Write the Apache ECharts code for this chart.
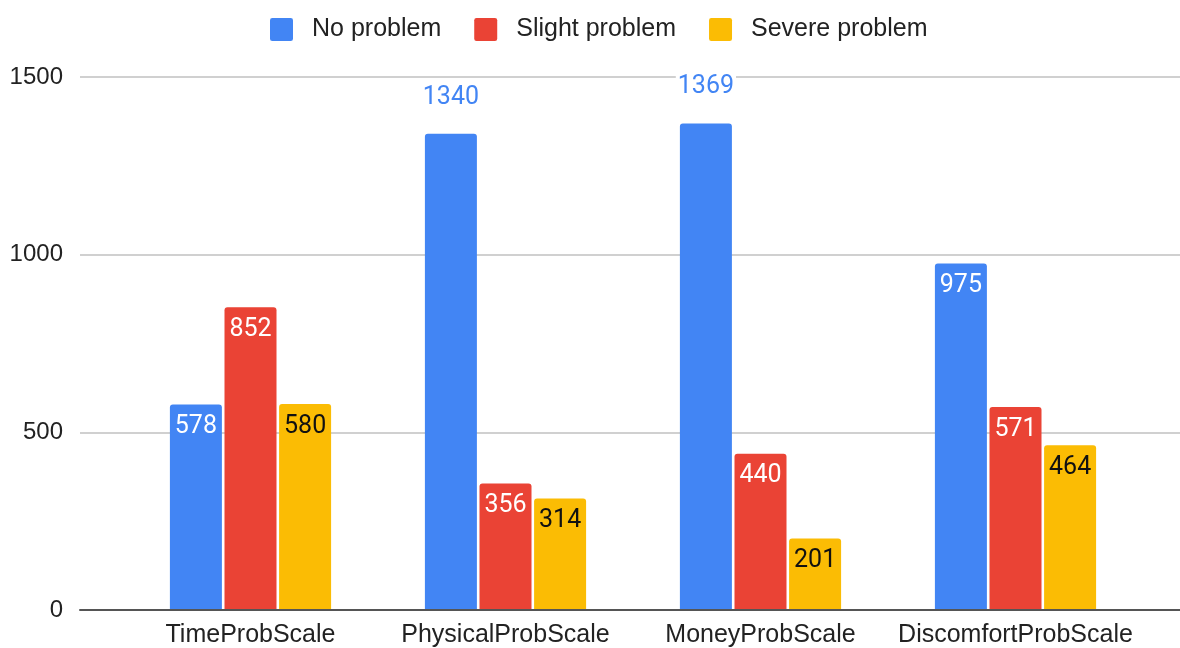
<!DOCTYPE html>
<html>
<head>
<meta charset="utf-8">
<script src="https://cdn.jsdelivr.net/npm/echarts@6/dist/echarts.min.js"></script>
<style>
  html, body { margin: 0; padding: 0; background: #fff; }
  #chart { width: 1180px; height: 648px; }
</style>
</head>
<body>
<div id="chart"></div>
<script>
// Survey responses per problem scale
const categories = ['TimeProbScale', 'PhysicalProbScale', 'MoneyProbScale', 'DiscomfortProbScale'];
const seriesNames = ['No problem', 'Slight problem', 'Severe problem'];
const noProblem = [578, 1340, 1369, 975];
const slightProblem = [852, 356, 440, 571];
const severeProblem = [580, 314, 201, 464];
const yTicks = [0, 500, 1000, 1500];

const colors = ['#4285F4', '#EA4335', '#FBBC04'];
const labelFont = 'Roboto, "Liberation Sans", Arial, sans-serif';
const textFont = '"Liberation Sans", Arial, sans-serif';

// Legend swatch: square with slightly rounded corners
const swatch = 'path://M2,0 L18,0 Q20,0 20,2 L20,18 Q20,20 18,20 L2,20 Q0,20 0,18 L0,2 Q0,0 2,0 Z';

// Tall bars carry their label above the bar, the rest inside the top
const tallLimit = 1200;

function barData(values, insideColor, seriesColor) {
  return values.map(v => {
    if (v >= tallLimit) {
      return {
        value: v,
        label: {
          position: 'top',
          distance: 24,
          color: seriesColor,
          backgroundColor: '#fff',
          padding: [0, 2]
        }
      };
    }
    return { value: v, label: { color: insideColor } };
  });
}

function barSeries(name, values, idx, insideColor) {
  return {
    name: name,
    type: 'bar',
    xAxisIndex: 1,
    yAxisIndex: 1,
    barWidth: 52,
    barGap: '5%',
    itemStyle: { color: colors[idx], borderRadius: [3, 3, 0, 0] },
    label: {
      show: true,
      position: 'insideTop',
      distance: 10,
      fontFamily: labelFont,
      fontSize: 25,
      color: insideColor
    },
    data: barData(values, insideColor, colors[idx]),
    z: 3
  };
}

const chart = echarts.init(document.getElementById('chart'), null, { renderer: 'canvas' });

chart.setOption({
  animation: false,
  backgroundColor: '#fff',
  legend: {
    top: 12,
    left: 265,
    itemWidth: 23,
    itemHeight: 24,
    itemGap: 33,
    icon: swatch,
    textStyle: {
      fontFamily: textFont,
      fontSize: 25,
      color: '#222',
      padding: [0, 0, 0, 14]
    },
    data: seriesNames
  },
  grid: [
    // full-width frame holding the value gridlines and baseline
    { left: 80, right: 0, top: 77, bottom: 38 },
    // inner band where the category groups sit
    { left: 123, right: 37, top: 77, bottom: 38 }
  ],
  xAxis: [
    {
      type: 'category',
      gridIndex: 0,
      data: categories,
      axisLine: { show: true, lineStyle: { color: '#555', width: 2 } },
      axisTick: { show: false },
      axisLabel: { show: false },
      z: 4
    },
    {
      type: 'category',
      gridIndex: 1,
      data: categories,
      axisLine: { show: false },
      axisTick: { show: false },
      axisLabel: {
        interval: 0,
        hideOverlap: false,
        margin: 13,
        fontFamily: textFont,
        fontSize: 25,
        color: '#222'
      }
    }
  ],
  yAxis: [
    {
      type: 'value',
      gridIndex: 0,
      min: yTicks[0],
      max: yTicks[yTicks.length - 1],
      interval: yTicks[1] - yTicks[0],
      axisLine: { show: false },
      axisTick: { show: false },
      axisLabel: {
        margin: 17,
        fontFamily: textFont,
        fontSize: 24,
        color: '#222',
        formatter: v => String(v)
      },
      splitLine: { lineStyle: { color: '#d0d0d0', width: 2 } }
    },
    {
      type: 'value',
      gridIndex: 1,
      min: yTicks[0],
      max: yTicks[yTicks.length - 1],
      interval: yTicks[1] - yTicks[0],
      show: false,
      splitLine: { show: false }
    }
  ],
  series: [
    barSeries(seriesNames[0], noProblem, 0, '#fff'),
    barSeries(seriesNames[1], slightProblem, 1, '#fff'),
    barSeries(seriesNames[2], severeProblem, 2, '#111')
  ]
});
</script>
</body>
</html>
